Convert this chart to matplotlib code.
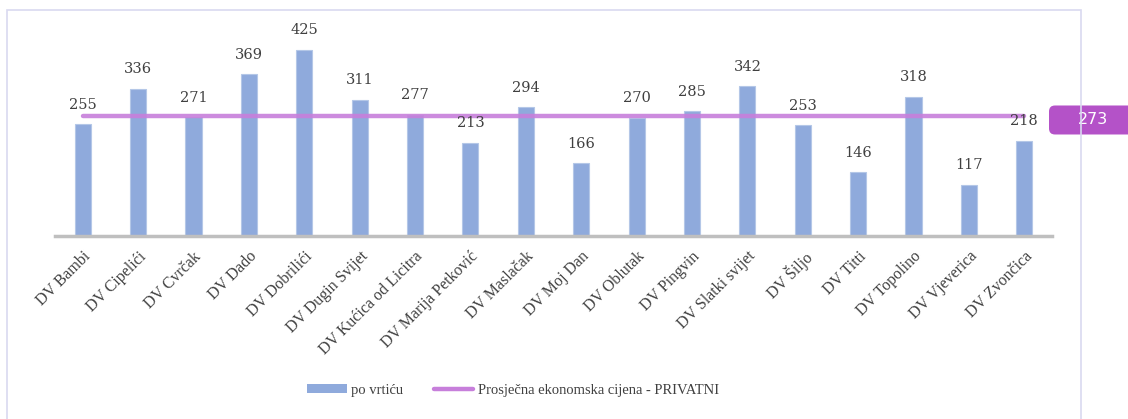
import matplotlib.pyplot as plt
from matplotlib.patches import Rectangle, FancyBboxPatch
from matplotlib.lines import Line2D
import numpy as np

vrtici = ['DV Bambi', 'DV Cipelići', 'DV Cvrčak', 'DV Dado', 'DV Dobrilići',
          'DV Dugin Svijet', 'DV Kućica od Licitra', 'DV Marija Petković',
          'DV Maslačak', 'DV Moj Dan', 'DV Oblutak', 'DV Pingvin',
          'DV Slatki svijet', 'DV Šiljo', 'DV Titti', 'DV Topolino',
          'DV Vjeverica', 'DV Zvončica']
cijene = [255, 336, 271, 369, 425, 311, 277, 213, 294, 166, 270, 285,
          342, 253, 146, 318, 117, 218]
prosjek = 273

plt.rcParams['font.family'] = ['Liberation Serif', 'DejaVu Serif']

fig = plt.figure(figsize=(11.28, 4.19), dpi=100)
# okvir grafikona
fig.patches.append(Rectangle((7 / 1128, -0.01), 1074 / 1128, 1 - 10 / 419 + 0.01,
                             transform=fig.transFigure, fill=False,
                             edgecolor='#D9D9F0', linewidth=1.2))

ax = fig.add_axes([55 / 1128, 1 - 236 / 419, 997 / 1128, 211 / 419])
x = np.arange(len(vrtici))
ax.bar(x, cijene, width=0.29, color='#8FAADC', edgecolor='#B4C7E7',
       linewidth=0.8, zorder=2)
ax.plot([x[0], x[-1]], [prosjek, prosjek], color='#C77FDB', alpha=0.9,
        linewidth=3.2, solid_capstyle='round', zorder=3)

for xi, v in zip(x, cijene):
    ax.annotate(str(v), (xi, v), xytext=(0, 9), textcoords='offset points',
                ha='center', va='bottom', fontsize=10.5, color='#404040',
                family='DejaVu Serif')

ax.set_xlim(-0.5, 17.5)
ax.set_ylim(0, 482)

# oznaka prosjeka desno od grafa
px_y = 482 / 211  # podatkovne jedinice po pikselu
kutija = FancyBboxPatch((0.997, prosjek - 8 - 14.5 * px_y), 0.1, 29 * px_y,
                        boxstyle='round,pad=0,rounding_size=0.006',
                        mutation_aspect=px_y * 997,
                        transform=ax.get_yaxis_transform(), fc='#B452C8',
                        ec='none', clip_on=False, zorder=5)
ax.add_patch(kutija)
ax.text(1.0415, prosjek - 8, str(prosjek), transform=ax.get_yaxis_transform(),
        ha='center', va='center', fontsize=11.5, color='white',
        family='DejaVu Sans', zorder=6, clip_on=False)

ax.set_xticks(x)
ax.set_xticklabels(vrtici, rotation=45, ha='right', rotation_mode='anchor',
                   fontsize=11.5, color='#404040')
ax.tick_params(axis='x', length=0, pad=9)
ax.set_yticks([])
for s in ['top', 'right', 'left']:
    ax.spines[s].set_visible(False)
ax.spines['bottom'].set_color('#BFBFBF')
ax.spines['bottom'].set_linewidth(2.5)
ax.spines['bottom'].set_zorder(4)

handles = [Rectangle((0, 0), 1, 1, fc='#8FAADC', ec='none'),
           Line2D([0], [0], color='#C77FDB', linewidth=3.2,
                  solid_capstyle='round')]
fig.legend(handles, ['po vrtiću', 'Prosječna ekonomska cijena - PRIVATNI'],
           loc='center', bbox_to_anchor=(513 / 1128, 1 - 390 / 419), ncol=2,
           frameon=False, fontsize=10.5, handlelength=2.7, handleheight=0.6,
           columnspacing=2.1, handletextpad=0.3, labelcolor='#404040')

fig.savefig('out.png', dpi=100)
